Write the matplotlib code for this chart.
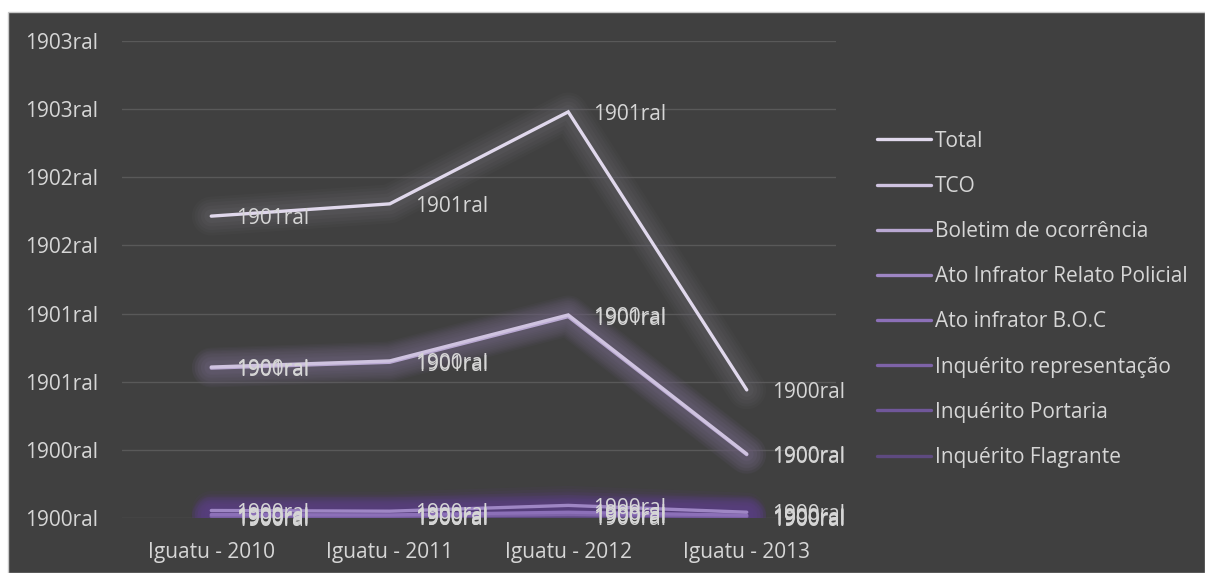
import numpy as np
import matplotlib.pyplot as plt
from matplotlib.patches import Rectangle
from matplotlib.ticker import FuncFormatter, MultipleLocator

plt.rcParams['font.family'] = ['Open Sans', 'DejaVu Sans']

# Dados (gráfico de linhas empilhadas do Excel, valores formatados como data)
categorias = ['Iguatu - 2010', 'Iguatu - 2011', 'Iguatu - 2012', 'Iguatu - 2013']

# ordem de empilhamento: de baixo para cima
series = ['Inquérito Flagrante', 'Inquérito Portaria', 'Inquérito representação',
          'Ato infrator B.O.C', 'Ato Infrator Relato Policial',
          'Boletim de ocorrência', 'TCO', 'Total']
flagrante = [2, 3, 4, 2]
portaria = [3, 2, 5, 2]
representacao = [1, 1, 2, 1]
boc = [4, 3, 6, 3]
relato = [12, 11, 20, 9]
boletim = [418, 437, 554, 169]
tco = [3, 4, 5, 2]
total = [443, 461, 596, 188]

cores = ['#5e4a80', '#70579a', '#7e63a8', '#8c70b8', '#9e86c4',
         '#b9a8d2', '#cfc3e0', '#e0d8ec']
brilho = ['#5a3d80', '#5a3d80', '#5a3d80', '#5a3d80', '#5a3d80',
          '#6a6078', '#6a6078', '#66646c']

bg = '#404040'
txt = '#d6d6d6'
fs = 15


def excel_ano(v, pos=None):
    # serial de data do Excel (sistema 1900) -> ano, com o formato "aaaaral"
    if v < 367:
        ano = 1900
    else:
        ano = 1901 + int((v - 367) // 365.25)
    return f'{ano}ral'


valores = [flagrante, portaria, representacao, boc, relato, boletim, tco, total]
acum = np.cumsum(np.array(valores, dtype=float), axis=0)
x = np.arange(len(categorias))

fig = plt.figure(figsize=(12.05, 5.73), dpi=100, facecolor='white')
fig.patches.append(Rectangle((8 / 1205, 0), 1 - 8 / 1205, 1 - 12 / 573,
                             transform=fig.transFigure, facecolor=bg,
                             edgecolor='#c8c8c8', linewidth=1.0, zorder=-5))

ax = fig.add_axes([122 / 1205, 1 - 518 / 573, (836 - 122) / 1205, (518 - 41) / 573])
ax.set_facecolor('none')
ax.set_zorder(2)

for i in range(len(series)):
    y = acum[i]
    # efeito de brilho
    for w, a in [(28, 0.09), (24, 0.11), (20, 0.13), (15, 0.15), (10, 0.18)]:
        ax.plot(x, y, color=brilho[i], lw=w, alpha=a, solid_capstyle='round',
                solid_joinstyle='round', zorder=2 + i * 0.1)
for i in range(len(series)):
    ax.plot(x, acum[i], color=cores[i], lw=2.4, solid_capstyle='round',
            solid_joinstyle='miter', zorder=5 + i * 0.1, label=series[i])

for i in range(len(series)):
    for j in range(len(x)):
        ax.annotate(excel_ano(valores[i][j]), (x[j], acum[i][j]),
                    xytext=(18, -2), textcoords='offset points',
                    ha='left', va='center', color=txt, fontsize=fs, zorder=10)

ax.set_xlim(-0.5, 3.5)
ax.set_ylim(0, 1400)
ax.yaxis.set_major_locator(MultipleLocator(200))
ax.yaxis.set_major_formatter(FuncFormatter(excel_ano))
ax.set_xticks(x)
ax.set_xticklabels(categorias)
ax.grid(axis='y', color='#595959', lw=1.0, zorder=1)
for s in ax.spines.values():
    s.set_visible(False)
ax.tick_params(axis='y', length=0, pad=17, labelsize=fs, labelcolor=txt)
ax.tick_params(axis='x', length=0, pad=17, labelsize=fs, labelcolor=txt)

h, l = ax.get_legend_handles_labels()
leg = fig.legend(h[::-1], l[::-1], loc='upper left',
                 bbox_to_anchor=(858 / 1205, 1 - 112 / 573),
                 frameon=False, fontsize=fs, labelcolor=txt,
                 handlelength=2.6, handletextpad=0.2, labelspacing=1.16)

fig.savefig('out.png', dpi=100, facecolor='white')
